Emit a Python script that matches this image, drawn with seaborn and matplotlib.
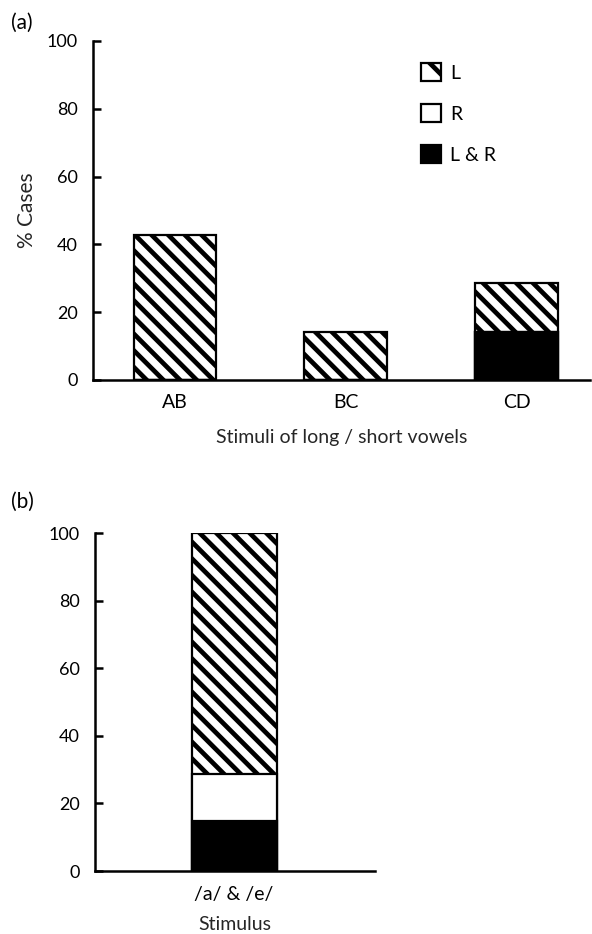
import matplotlib
matplotlib.use("Agg")
import matplotlib.pyplot as plt
import matplotlib.patches as mpatches
import seaborn as sns
import pandas as pd
import numpy as np

# painel (a)
categorias_a = ["AB", "BC", "CD"]
l_a = [42.9, 14.3, 14.3]
r_a = [0.0, 0.0, 0.0]
lr_a = [0.0, 0.0, 14.3]

# painel (b)
categorias_b = ["/a/ & /e/"]
l_b = [71.4]
r_b = [13.7]
lr_b = [14.9]

series = ["L", "R", "L & R"]
yticks = [0, 20, 40, 60, 80, 100]

sns.set_theme(style="white")
plt.rcParams['font.family'] = ['Lato', 'DejaVu Sans']
plt.rcParams['text.color'] = 'black'
plt.rcParams['hatch.linewidth'] = 3.4
plt.rcParams['axes.linewidth'] = 1.6

FS = 14
FS_Y = 13
HACH = "\\\\"

fig = plt.figure(figsize=(5.92, 9.34), dpi=100)
W, H = 592, 934


def eixo(x0, x1, y_top, y_bot):
    return fig.add_axes([x0 / W, 1 - y_bot / H, (x1 - x0) / W, (y_bot - y_top) / H])


def empilhado(ax, cats, l, r, lr, largura):
    df = pd.DataFrame({"cat": cats, "l": l, "r": r, "lr": lr})
    df["tot"] = df["l"] + df["r"] + df["lr"]
    df["base"] = df["r"] + df["lr"]
    sns.barplot(data=df, x="cat", y="tot", ax=ax, color="white", edgecolor="black",
                hatch=HACH, linewidth=1.6, width=largura, saturation=1)
    sns.barplot(data=df, x="cat", y="base", ax=ax, color="white", edgecolor="black",
                linewidth=1.6, width=largura, saturation=1)
    sns.barplot(data=df, x="cat", y="lr", ax=ax, color="black", edgecolor="black",
                linewidth=1.6, width=largura, saturation=1)


def estilo(ax, pad_x):
    ax.set_ylim(0, 100)
    ax.set_yticks(yticks)
    sns.despine(ax=ax)
    for s in ["left", "bottom"]:
        ax.spines[s].set_color("black")
        ax.spines[s].set_linewidth(1.8)
    ax.tick_params(axis="y", direction="in", length=6, width=1.8, pad=11, labelsize=FS_Y, colors="black", left=True)
    ax.tick_params(axis="x", length=0, pad=pad_x, labelsize=FS, colors="black")
    ax.set_facecolor("white")


ax1 = eixo(93, 590, 41, 380)
empilhado(ax1, categorias_a, l_a, r_a, lr_a, 0.485)
estilo(ax1, 10)
ax1.set_xlim(-0.48, 2.43)
ax1.set_ylabel("% Cases", fontsize=FS + 1, labelpad=7)
ax1.set_xlabel("Stimuli of long / short vowels", fontsize=FS, labelpad=13)

handles = [
    mpatches.Patch(facecolor="white", edgecolor="black", hatch="\\", linewidth=1.6, label=series[0]),
    mpatches.Patch(facecolor="white", edgecolor="black", linewidth=1.6, label=series[1]),
    mpatches.Patch(facecolor="black", edgecolor="black", linewidth=1.6, label=series[2]),
]
ax1.legend(handles=handles, loc="upper left", bbox_to_anchor=(421 / W, 1 - 63 / H),
           bbox_transform=fig.transFigure, frameon=False, fontsize=FS,
           handlelength=1.05, handleheight=1.05, handletextpad=0.45, labelspacing=1.15,
           borderpad=0, borderaxespad=0)

ax2 = eixo(95, 375, 533, 871)
empilhado(ax2, categorias_b, l_b, r_b, lr_b, 0.5)
estilo(ax2, 11)
ax2.set_xlim(-0.82, 0.83)
ax2.set_ylabel("")
ax2.set_xlabel("Stimulus", fontsize=FS, labelpad=9)

fig.text(11 / W, 1 - 23 / H, "(a)", fontsize=FS + 1, ha="left", va="center")
fig.text(11 / W, 1 - 502 / H, "(b)", fontsize=FS + 1, ha="left", va="center")

fig.savefig("out.png", dpi=100, facecolor="white")
